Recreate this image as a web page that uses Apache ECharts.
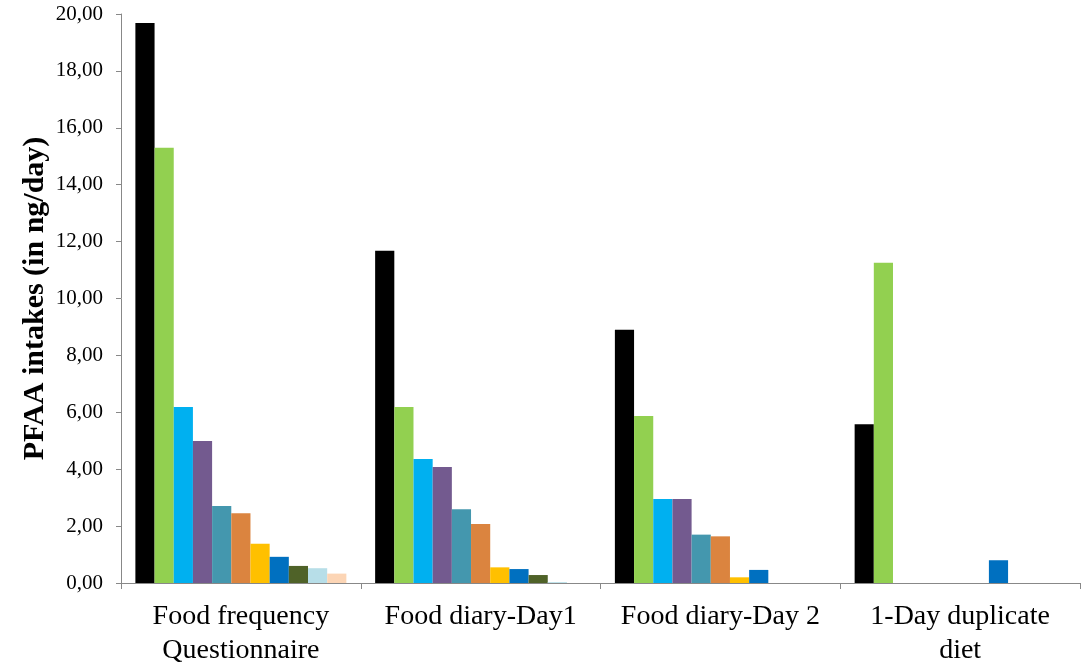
<!DOCTYPE html>
<html>
<head>
<meta charset="utf-8">
<script src="https://cdn.jsdelivr.net/npm/echarts@6/dist/echarts.min.js"></script>
<style>html,body{margin:0;padding:0;background:#fff}#c{width:1086px;height:671px}</style>
</head>
<body>
<div id="c"></div>
<script>
const categories = ["Food frequency\nQuestionnaire", "Food diary-Day1", "Food diary-Day 2", "1-Day duplicate\ndiet"];
const seriesNames = ["S1","S2","S3","S4","S5","S6","S7","S8","S9","S10","S11"];
const s1 = [19.68, 11.68, 8.90, 5.58];
const s2 = [15.30, 6.19, 5.87, 11.26];
const s3 = [6.19, 4.36, 2.95, 0];
const s4 = [4.99, 4.08, 2.95, 0];
const s5 = [2.71, 2.59, 1.70, 0];
const s6 = [2.45, 2.07, 1.64, 0];
const s7 = [1.38, 0.55, 0.20, 0];
const s8 = [0.92, 0.49, 0.46, 0.80];
const s9 = [0.60, 0.28, 0, 0];
const s10 = [0.52, 0.03, 0, 0];
const s11 = [0.33, 0, 0, 0];
const yTicks = [0, 2, 4, 6, 8, 10, 12, 14, 16, 18, 20];

const values = [s1,s2,s3,s4,s5,s6,s7,s8,s9,s10,s11];
const colors = ["#000000","#92D050","#00B0F0","#735A8F","#4497AE","#DB843F","#FFC000","#0070C0","#4F6228","#B7DEE8","#FCD5B5"];

const chart = echarts.init(document.getElementById('c'), null, {renderer:'canvas'});
chart.setOption({
  animation: false,
  backgroundColor: '#ffffff',
  grid: {left: 121, right: 6, top: 14, bottom: 88, containLabel: false},
  xAxis: {
    type: 'category',
    data: categories,
    axisLine: {lineStyle: {color: '#888888', width: 1}},
    axisTick: {show: true, length: 6, alignWithLabel: false, lineStyle: {color: '#888888'}},
    axisLabel: {fontFamily: 'Liberation Serif', fontSize: 28, color: '#000', margin: 17, lineHeight: 34, interval: 0}
  },
  yAxis: {
    type: 'value',
    min: yTicks[0], max: yTicks[yTicks.length-1], interval: 2,
    name: 'PFAA intakes (in ng/day)',
    nameLocation: 'middle',
    nameGap: 71,
    nameMoveOverlap: false,
    nameTextStyle: {fontFamily: 'Liberation Serif', fontSize: 30, fontWeight: 'bold', color: '#000'},
    axisLine: {show: true, lineStyle: {color: '#888888', width: 1}},
    axisTick: {show: true, length: 5, inside: false, lineStyle: {color: '#888888'}},
    splitLine: {show: false},
    axisLabel: {fontFamily: 'Liberation Serif', fontSize: 21, color: '#000', margin: 18,
      formatter: v => v.toFixed(2).replace('.', ',')}
  },
  series: values.map((d, i) => ({
    name: seriesNames[i],
    type: 'bar',
    data: d,
    barGap: '0%',
    barCategoryGap: '12%',
    itemStyle: {color: colors[i]}
  }))
});
</script>
</body>
</html>
